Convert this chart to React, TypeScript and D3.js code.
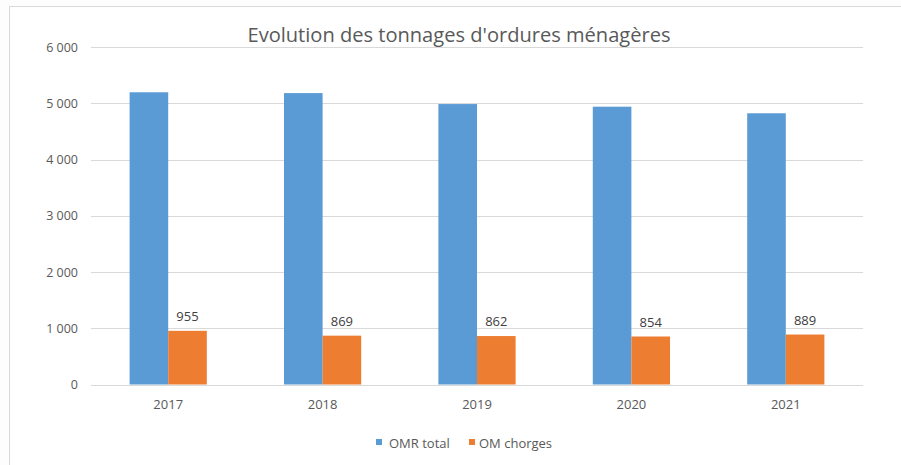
import React from "react";
import * as d3 from "d3";

const years = ["2017", "2018", "2019", "2020", "2021"];
const omrTotal = [5200, 5185, 4990, 4943, 4826];
const omCharges = [955, 869, 862, 854, 889];
const seriesNames = ["OMR total", "OM chorges"];
const yTicks = [0, 1000, 2000, 3000, 4000, 5000, 6000];
const title = "Evolution des tonnages d'ordures ménagères";

const W = 901;
const H = 465;
const FONT = "'Open Sans', 'Liberation Sans', sans-serif";
const TXT = "#595959";
const BLUE = "#5b9bd5";
const ORANGE = "#ed7d31";

const fmt = (v: number) => d3.format(",")(v).replace(/,/g, " ");

export default function App() {
  const left = 91, right = 863, top = 47.3, bottom = 384.5;
  const x = d3.scaleBand().domain(years).range([left, right]).paddingInner(0.5).paddingOuter(0.25);
  const y = d3.scaleLinear().domain([0, 6000]).range([bottom, top]);
  const bw = x.bandwidth() / 2;

  return (
    <svg width={W} height={H} style={{ position: "absolute", left: 0, top: 0 }} fontFamily={FONT}>
      <rect x={0} y={0} width={W} height={H} fill="#fdfdfd" />
      <rect x={9.5} y={6.5} width={W} height={H} fill="#ffffff" stroke="#d9d9d9" strokeWidth={1} />
      <text x={459} y={42} textAnchor="middle" fontSize={20} fill={TXT} textLength={423} lengthAdjust="spacingAndGlyphs">{title}</text>
      {yTicks.map((t) => (
        <g key={t}>
          <line x1={left} x2={right} y1={Math.round(y(t)) + 0.5} y2={Math.round(y(t)) + 0.5} stroke="#d9d9d9" strokeWidth={1} />
          <text x={78} y={y(t) + 4.5} textAnchor="end" fontSize={12.5} fill={TXT}>{fmt(t)}</text>
        </g>
      ))}
      {years.map((yr, i) => {
        const x0 = x(yr)!;
        return (
          <g key={yr}>
            <rect x={x0} y={y(omrTotal[i])} width={bw} height={y(0) - y(omrTotal[i])} fill={BLUE} />
            <rect x={x0 + bw} y={y(omCharges[i])} width={bw} height={y(0) - y(omCharges[i])} fill={ORANGE} />
            <text x={x0 + bw * 1.5} y={y(omCharges[i]) - 10} textAnchor="middle" fontSize={13} fill="#404040">{fmt(omCharges[i])}</text>
            <text x={x0 + bw} y={409} textAnchor="middle" fontSize={13} fill={TXT}>{yr}</text>
          </g>
        );
      })}
      <g>
        <rect x={376} y={439} width={6} height={6} fill={BLUE} />
        <text x={389} y={447.5} fontSize={13} fill={TXT}>{seriesNames[0]}</text>
        <rect x={469} y={439} width={6} height={6} fill={ORANGE} />
        <text x={479} y={447.5} fontSize={13} fill={TXT}>{seriesNames[1]}</text>
      </g>
    </svg>
  );
}
